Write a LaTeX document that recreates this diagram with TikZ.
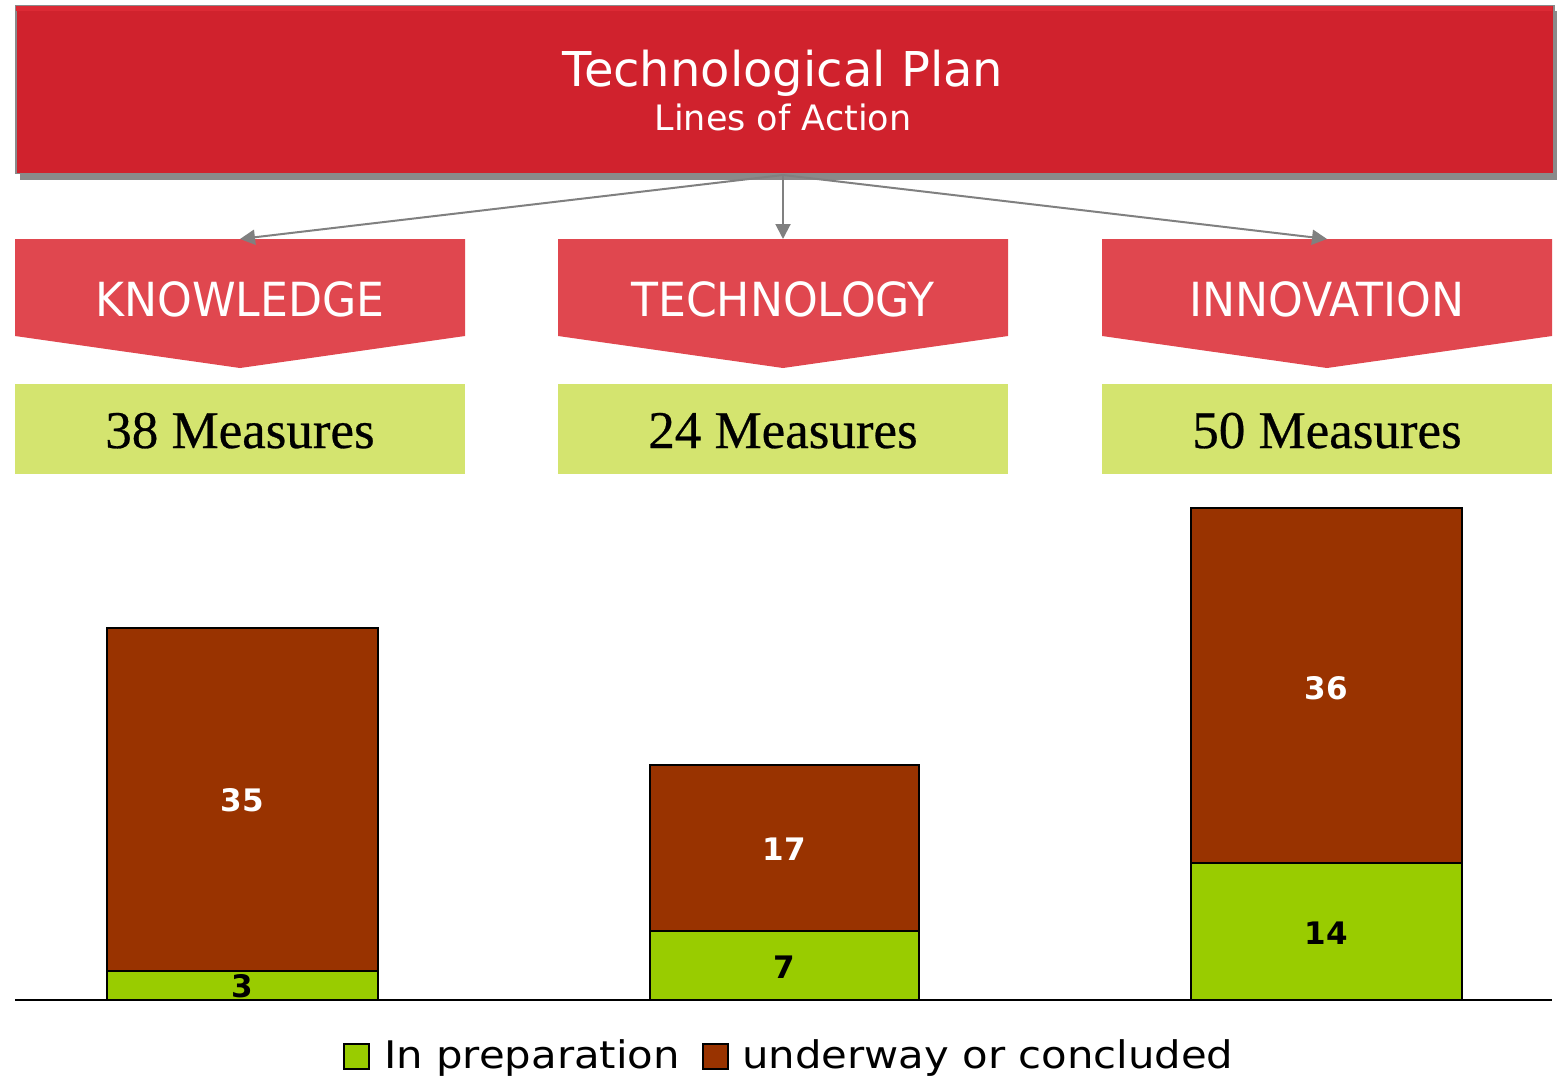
\documentclass[tikz,border=0pt]{standalone}
\usepackage{fontspec}
\setmainfont{Liberation Serif}[FakeBold=0.5]
\newfontfamily\dv{DejaVu Sans}
\newfontfamily\dvn{DejaVu Sans}[FakeStretch=0.94]
\newfontfamily\dvw{DejaVu Sans}[FakeStretch=1.1]
\usetikzlibrary{arrows.meta}
\definecolor{titlered}{HTML}{D0222D}
\definecolor{titletop}{HTML}{DC2A35}
\definecolor{bordergray}{HTML}{8A8A8A}
\definecolor{shadowgray}{HTML}{8A8A8A}
\definecolor{chevred}{HTML}{E0474F}
\definecolor{lightgreen}{HTML}{D4E46F}
\definecolor{bargreen}{HTML}{99CC00}
\definecolor{barbrown}{HTML}{993300}
\definecolor{conngray}{HTML}{808080}
\tikzset{
  conn/.style={draw=conngray, line width=2pt, -{Triangle[length=15pt,width=15pt]}},
  chev/.style={fill=chevred},
  chevtext/.style={anchor=base, text=white, font=\dvn\fontsize{47}{50}\selectfont},
  measbox/.style={fill=lightgreen},
  meastext/.style={anchor=base, text=black, font=\fontsize{53}{58}\selectfont},
  greenseg/.style={fill=bargreen, draw=black, line width=2pt},
  brownseg/.style={fill=barbrown, draw=black, line width=2pt},
  numw/.style={anchor=base, text=white, font=\dv\bfseries\fontsize{31}{34}\selectfont},
  numb/.style={anchor=base, text=black, font=\dv\bfseries\fontsize{31}{34}\selectfont},
  legtext/.style={anchor=base west, inner sep=0pt, text=black, font=\dvw\fontsize{38}{42}\selectfont},
  legsq/.style={draw=black, line width=2pt, minimum size=25pt, inner sep=0pt, anchor=north west},
}
\begin{document}
\begin{tikzpicture}[x=1pt,y=-1pt]
\useasboundingbox (0,0) rectangle (1557,1078);
% title
\fill[shadowgray] (20,11) rectangle (1557,180);
\node[draw=bordergray, fill=titlered, line width=1.5pt, minimum width=1538pt, minimum height=168pt, anchor=north west, inner sep=0pt] (title) at (15,5) {};
\fill[titletop] (16,6) rectangle (1552,11);
\node[anchor=base, text=white, font=\dv\fontsize{48}{52}\selectfont] (t1) at (783,87) {Technological Plan};
\node[anchor=base, text=white, font=\dv\fontsize{35}{38}\selectfont] (t2) at (783,131) {Lines of Action};
% chevrons
\fill[chev] (15,239) -- (465,239) -- (465,336) -- (240,368) -- (15,336) -- cycle;
\fill[chev] (558,239) -- (1008,239) -- (1008,336) -- (783,368) -- (558,336) -- cycle;
\fill[chev] (1102,239) -- (1552,239) -- (1552,336) -- (1327,368) -- (1102,336) -- cycle;
\coordinate (kt) at (240,239);
\coordinate (tt) at (783,239);
\coordinate (it) at (1327,239);
\coordinate (src) at (783,175);
\node[chevtext] (k) at (240,316) {KNOWLEDGE};
\node[chevtext] (t) at (783,316) {TECHNOLOGY};
\node[chevtext] (i) at (1327,316) {INNOVATION};
\draw[conn] (src) -- (kt);
\draw[conn] (src) -- (tt);
\draw[conn] (src) -- (it);
% measures
\fill[measbox] (15,384) rectangle (465,474);
\fill[measbox] (558,384) rectangle (1008,474);
\fill[measbox] (1102,384) rectangle (1552,474);
\node[meastext] (m1) at (240,448) {38 Measures};
\node[meastext] (m2) at (783,448) {24 Measures};
\node[meastext] (m3) at (1327,448) {50 Measures};
% bars
\draw[brownseg] (107,627.6) rectangle (378,970.6);
\draw[greenseg] (107,970.6) rectangle (378,1000);
\draw[brownseg] (650,764.8) rectangle (919,931.4);
\draw[greenseg] (650,931.4) rectangle (919,1000);
\draw[brownseg] (1191,508) rectangle (1462,862.8);
\draw[greenseg] (1191,862.8) rectangle (1462,1000);
\draw[black, line width=2pt] (15,1000) -- (1552,1000);
\node[numw] (n35) at (242.5,811.9) {35};
\node[numb] (n3) at (242.5,997) {3};
\node[numw] (n17) at (784.5,860.9) {17};
\node[numb] (n7) at (784.5,978.5) {7};
\node[numw] (n36) at (1326.5,699) {36};
\node[numb] (n14) at (1326.5,944.2) {14};
% legend
\node[legsq, fill=bargreen] (lg) at (343,1043) {};
\node[legtext] (lgt) at (384,1068) {In preparation};
\node[legsq, fill=barbrown] (lb) at (702,1043) {};
\node[legtext] (lbt) at (742,1068) {underway or concluded};
\end{tikzpicture}
\end{document}
